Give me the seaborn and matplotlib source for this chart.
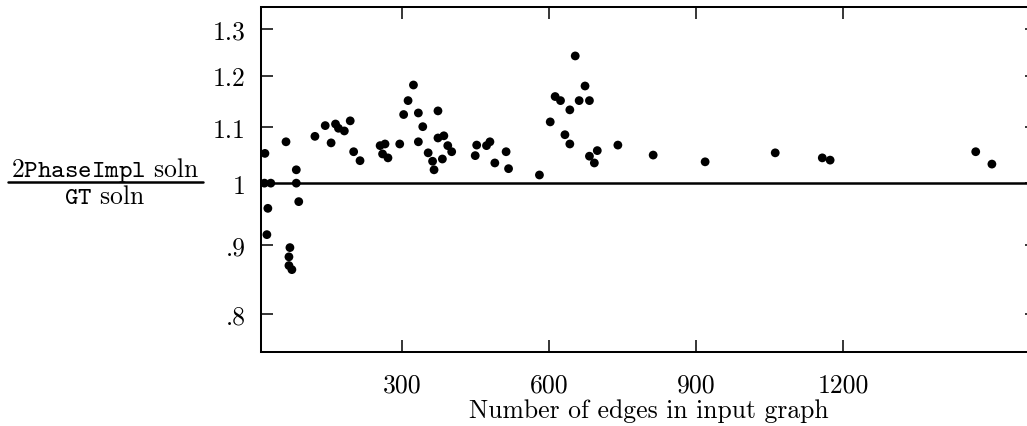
import matplotlib
matplotlib.use("Agg")
import matplotlib.pyplot as plt
import seaborn as sns
import pandas as pd
from matplotlib.lines import Line2D
from matplotlib.ticker import FixedLocator, FixedFormatter, NullLocator

# data
edges = [20, 19, 32, 26, 24, 63, 84, 84, 89, 71, 69, 69, 75,
         122, 143, 155, 164, 170, 182, 194, 201, 214,
         255, 265, 260, 271, 295, 303, 312, 323, 333, 333, 342, 353, 362, 365,
         373, 373, 385, 382, 393, 401,
         449, 452, 472, 479, 489, 512, 517, 580,
         602, 612, 623, 632, 642, 642, 653, 661, 673, 682, 682, 692, 698, 740,
         812, 918, 1061, 1157, 1173, 1470, 1503]
ratio = [1.052, 1.0, 1.0, 0.958, 0.916, 1.073, 1.023, 1.0, 0.969, 0.896, 0.882, 0.869, 0.863,
         1.083, 1.103, 1.071, 1.106, 1.098, 1.093, 1.112, 1.055, 1.039,
         1.066, 1.069, 1.051, 1.044, 1.069, 1.124, 1.151, 1.182, 1.127, 1.073, 1.101, 1.053, 1.038, 1.023,
         1.131, 1.080, 1.084, 1.042, 1.066, 1.055,
         1.048, 1.067, 1.066, 1.073, 1.035, 1.055, 1.025, 1.014,
         1.110, 1.159, 1.151, 1.086, 1.133, 1.069, 1.242, 1.151, 1.180, 1.151, 1.047, 1.035, 1.057, 1.067,
         1.049, 1.037, 1.053, 1.044, 1.040, 1.055, 1.033]
xticks = [300, 600, 900, 1200]
xticklabels = ["300", "600", "900", "1200"]
yticks = [0.8, 0.9, 1.0, 1.1, 1.2, 1.3]
yticklabels = [".8", ".9", "1", "1.1", "1.2", "1.3"]

df = pd.DataFrame({"edges": edges, "ratio": ratio})

sns.set_theme(style="ticks")
plt.rcParams["font.family"] = ["cmr10", "DejaVu Serif"]
plt.rcParams["mathtext.fontset"] = "cm"
plt.rcParams["axes.unicode_minus"] = False

FS = 18.5
W, H = 1027, 427
fig = plt.figure(figsize=(10.27, 4.27), dpi=100)
L, R, T, B = 261, 1037, 8, 353
ax = fig.add_axes([L / W, 1 - B / H, (R - L) / W, (B - T) / H])

ax.axhline(1.0, color="black", lw=1.8, zorder=1)
sns.scatterplot(data=df, x="edges", y="ratio", ax=ax, color="black",
                s=40, edgecolor="none", linewidth=0, zorder=3)

ax.set_yscale("log")
ax.set_xlim(12, 1595)
ax.set_ylim(0.75, 1.35)

ax.xaxis.set_major_locator(FixedLocator(xticks))
ax.xaxis.set_major_formatter(FixedFormatter(xticklabels))
ax.yaxis.set_major_locator(FixedLocator(yticks))
ax.yaxis.set_major_formatter(FixedFormatter(yticklabels))
ax.yaxis.set_minor_locator(NullLocator())
ax.xaxis.set_minor_locator(NullLocator())

ax.tick_params(axis="both", direction="in", length=8.6, width=1.1, color="black",
               labelsize=FS, labelcolor="black", top=True, right=True)
ax.tick_params(axis="x", pad=15)
ax.tick_params(axis="y", pad=11)
for sp in ax.spines.values():
    sp.set_linewidth(1.45)
    sp.set_color("black")
    sp.set_visible(True)

ax.set_xlabel("Number of edges in input graph", fontsize=FS, color="black", labelpad=1)
ax.set_ylabel("")

# fraction-style y label
cx = 105
fig.text(cx / W, 1 - 176.7 / H, r"$\mathtt{2PhaseImpl}$ soln",
         fontsize=FS, ha="center", va="baseline", color="black")
fig.text(cx / W, 1 - 204 / H, r"$\mathtt{GT}$ soln",
         fontsize=FS, ha="center", va="baseline", color="black")
fig.add_artist(Line2D([7.5 / W, 202.5 / W], [1 - 183.3 / H, 1 - 183.3 / H],
                      transform=fig.transFigure, color="black", lw=1.8))

fig.savefig("out.png", dpi=100, facecolor="white")
